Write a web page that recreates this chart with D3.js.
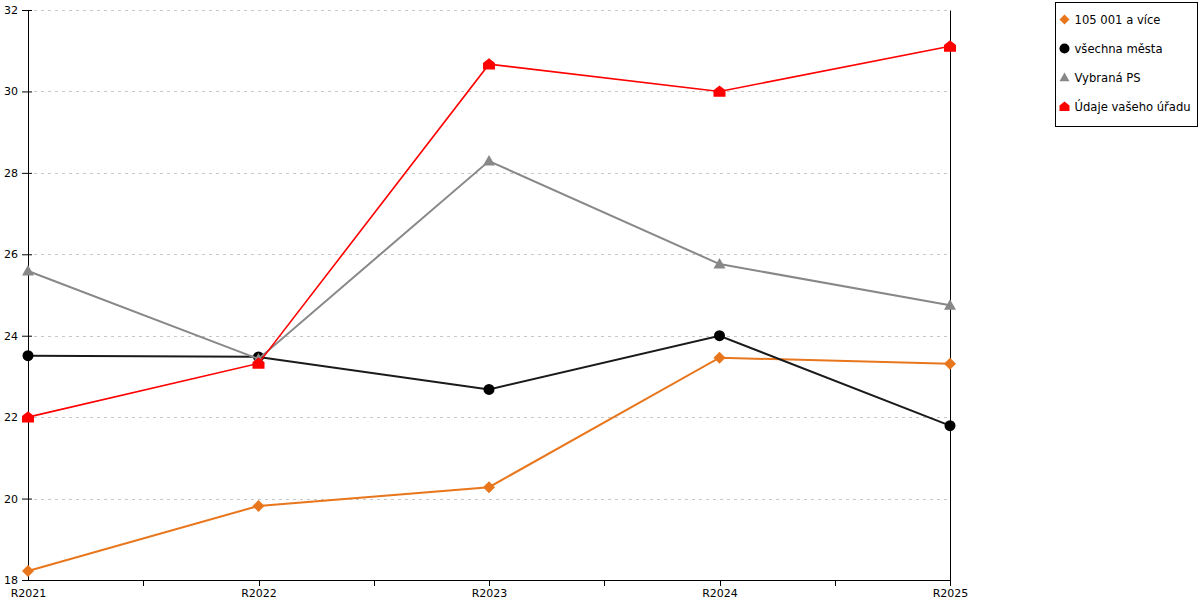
<!DOCTYPE html>
<meta charset="utf-8">
<div id="chart"></div>
<script src="https://d3js.org/d3.v7.min.js"></script>
<style type="text/css">
body { margin: 0; background: #fff; }
text { font-family: "DejaVu Sans", sans-serif; font-size: 11px; fill: #000; }
.legend text { font-size: 11.6px; }
.grid line { stroke: #c8c8c8; stroke-dasharray: 3,4; }
.axis path, .axis line { stroke: #000; }
</style>
<script>

var years = ["R2021", "R2022", "R2023", "R2024", "R2025"];
var yTicks = [18, 20, 22, 24, 26, 28, 30, 32];

var seriesNames = ["105 001 a více", "všechna města", "Vybraná PS", "Údaje vašeho úřadu"];
var orangeVals = [18.22, 19.82, 20.28, 23.46, 23.31];
var blackVals  = [23.51, 23.48, 22.68, 24.0, 21.79];
var greyVals   = [25.59, 23.43, 28.29, 25.76, 24.75];
var redVals    = [22.0, 23.32, 30.67, 30.0, 31.11];

var series = [
  {name: seriesNames[0], values: orangeVals, color: "#e8761c", width: 2, shape: "diamond"},
  {name: seriesNames[1], values: blackVals, color: "#1a1a1a", width: 2, shape: "circle"},
  {name: seriesNames[2], values: greyVals, color: "#888888", width: 2, shape: "triangle"},
  {name: seriesNames[3], values: redVals, color: "#ff0000", width: 1.6, shape: "house"}
];

var margin = {top: 10, right: 250, bottom: 20, left: 28};
var width = 1200 - margin.left - margin.right;
var height = 600 - margin.top - margin.bottom;

var svg = d3.select("#chart").append("svg")
    .attr("width", 1200).attr("height", 600);
var g = svg.append("g").attr("transform", "translate(" + margin.left + "," + margin.top + ")");

var x = d3.scalePoint().domain(years).range([0, width]);
var y = d3.scaleLinear().domain([18, 32]).range([height, 0]);

// dashed grid
g.append("g").attr("class", "grid")
  .selectAll("line").data(yTicks.slice(1))
  .enter().append("line")
    .attr("x1", 6).attr("x2", width - 2)
    .attr("y1", function(d) { return Math.round(y(d)) + 0.5; })
    .attr("y2", function(d) { return Math.round(y(d)) + 0.5; });

// axes
var yAxis = g.append("g").attr("class", "axis")
  .call(d3.axisLeft(y).tickValues(yTicks).tickSize(6).tickSizeOuter(0).tickPadding(4));
yAxis.selectAll(".tick line").attr("x2", -6).attr("x1", 4);

g.append("g").attr("class", "axis")
  .attr("transform", "translate(" + width + ",0)")
  .call(d3.axisRight(y).tickValues([]).tickSizeOuter(0));

var xAxis = g.append("g").attr("class", "axis")
  .attr("transform", "translate(0," + height + ")")
  .call(d3.axisBottom(x).tickSize(0).tickSizeOuter(0).tickPadding(9));

// ticks at categories and between them
var step = x.step();
var tickPos = [];
years.forEach(function(d, i) {
  tickPos.push(x(d));
  if (i < years.length - 1) tickPos.push(x(d) + step / 2);
});
xAxis.selectAll(".minor").data(tickPos.slice(1))
  .enter().append("line")
    .attr("class", "minor")
    .attr("x1", function(d) { return Math.round(d) + 0.5; })
    .attr("x2", function(d) { return Math.round(d) + 0.5; })
    .attr("y1", 0).attr("y2", 6);

var line = d3.line()
  .x(function(d, i) { return x(years[i]); })
  .y(function(d) { return y(d); });

function markerPath(shape, s) {
  if (shape === "diamond") return "M0," + (-s) + "L" + s + ",0L0," + s + "L" + (-s) + ",0Z";
  if (shape === "triangle") return "M0," + (-s) + "L" + s + "," + (s * 0.75) + "L" + (-s) + "," + (s * 0.75) + "Z";
  if (shape === "house") return "M0," + (-s) + "L" + s + "," + (-s * 0.2) + "L" + s + "," + s * 0.9 + "L" + (-s) + "," + s * 0.9 + "L" + (-s) + "," + (-s * 0.2) + "Z";
  return null;
}

series.forEach(function(s) {
  g.append("path")
    .datum(s.values)
    .attr("fill", "none")
    .attr("stroke", s.color)
    .attr("stroke-width", s.width)
    .attr("d", line);
  var pts = g.selectAll(".pt-" + s.shape).data(s.values).enter();
  if (s.shape === "circle") {
    pts.append("circle")
      .attr("cx", function(d, i) { return x(years[i]); })
      .attr("cy", function(d) { return y(d); })
      .attr("r", 5.5)
      .attr("fill", "#000");
  } else {
    pts.append("path")
      .attr("transform", function(d, i) { return "translate(" + x(years[i]) + "," + y(d) + ")"; })
      .attr("d", markerPath(s.shape, 6))
      .attr("fill", s.color);
  }
});

// legend
var legend = svg.append("g").attr("class", "legend").attr("transform", "translate(1055.5,2.5)");
legend.append("rect")
  .attr("width", 142).attr("height", 124)
  .attr("fill", "#fff").attr("stroke", "#000");
series.forEach(function(s, i) {
  var row = legend.append("g").attr("transform", "translate(9," + (17 + i * 29) + ")");
  if (s.shape === "circle") {
    row.append("circle").attr("r", 5).attr("fill", "#000");
  } else {
    row.append("path").attr("d", markerPath(s.shape, 5)).attr("fill", s.color);
  }
  row.append("text").attr("x", 10).attr("dy", "0.35em").text(s.name);
});
</script>
